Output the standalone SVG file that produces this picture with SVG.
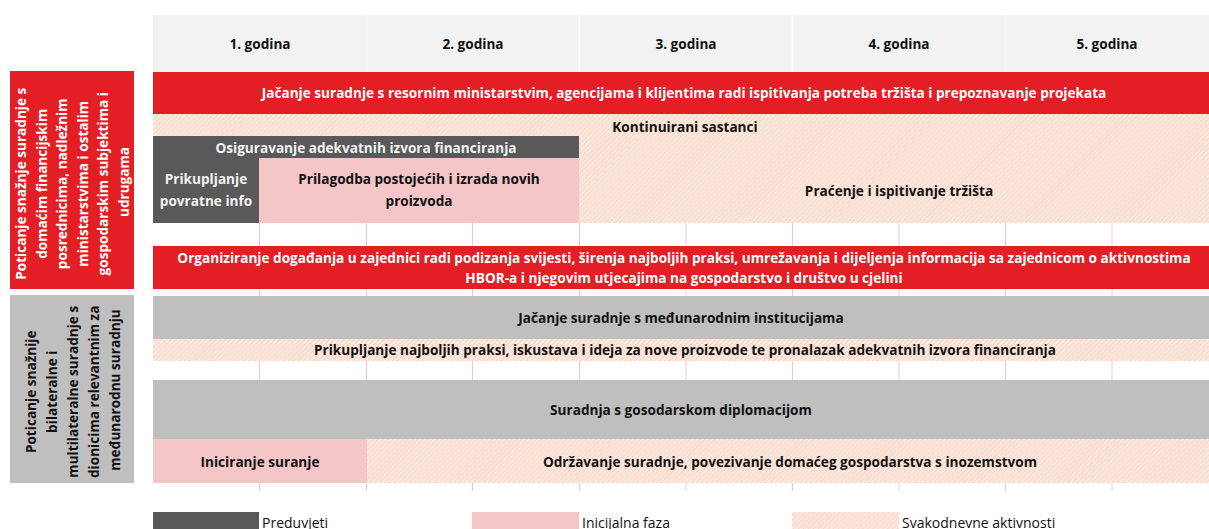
<svg xmlns="http://www.w3.org/2000/svg" width="1209" height="529" viewBox="0 0 1209 529">
<defs>
<pattern id="hatch" patternUnits="userSpaceOnUse" width="3.5" height="3.5" patternTransform="rotate(45)">
<rect width="3.5" height="3.5" fill="#FDEBE1"/>
<rect x="0" y="0" width="1.1" height="3.5" fill="#F9D2BF"/>
</pattern>
<style>
text{font-family:"Open Sans",Lato,"Liberation Sans",sans-serif;}
.b{font-weight:700;font-size:13.6px;text-anchor:middle;}
.w{fill:#FFFFFF;}
.k{fill:#111111;}
.lg{font-size:14px;fill:#111111;}
.grid line{stroke:#F4C6C3;stroke-width:1;}
.hdr{fill:#F2F2F2;}
.red{fill:#E31E24;}
.dk{fill:#595959;}
.pk{fill:#F4C6C8;}
.gr{fill:#BFBFBF;}
.ht{fill:url(#hatch);}
</style>
</defs>
<rect width="1209" height="529" fill="#FFFFFF"/>

<g id="header">
<rect class="hdr" x="153" y="15" width="1056" height="57"/>
<g stroke="#FFFFFF" stroke-width="1.5">
<line x1="366.5" y1="15" x2="366.5" y2="72"/>
<line x1="579.5" y1="15" x2="579.5" y2="72"/>
<line x1="792.5" y1="15" x2="792.5" y2="72"/>
<line x1="1005.5" y1="15" x2="1005.5" y2="72"/>
</g>
<text class="b k" x="260" y="49">1. godina</text>
<text class="b k" x="473" y="49">2. godina</text>
<text class="b k" x="686" y="49">3. godina</text>
<text class="b k" x="899" y="49">4. godina</text>
<text class="b k" x="1107" y="49">5. godina</text>
</g>

<g class="grid" id="grid">
<line x1="259.5" y1="223" x2="259.5" y2="246"/><line x1="366.5" y1="223" x2="366.5" y2="246"/><line x1="472.5" y1="223" x2="472.5" y2="246"/><line x1="579.5" y1="223" x2="579.5" y2="246"/><line x1="686" y1="223" x2="686" y2="246"/><line x1="792.5" y1="223" x2="792.5" y2="246"/><line x1="899" y1="223" x2="899" y2="246"/><line x1="1005.5" y1="223" x2="1005.5" y2="246"/><line x1="1112" y1="223" x2="1112" y2="246"/>
<line x1="259.5" y1="289" x2="259.5" y2="296"/><line x1="366.5" y1="289" x2="366.5" y2="296"/><line x1="472.5" y1="289" x2="472.5" y2="296"/><line x1="579.5" y1="289" x2="579.5" y2="296"/><line x1="686" y1="289" x2="686" y2="296"/><line x1="792.5" y1="289" x2="792.5" y2="296"/><line x1="899" y1="289" x2="899" y2="296"/><line x1="1005.5" y1="289" x2="1005.5" y2="296"/><line x1="1112" y1="289" x2="1112" y2="296"/>
<line x1="259.5" y1="361" x2="259.5" y2="380"/><line x1="366.5" y1="361" x2="366.5" y2="380"/><line x1="472.5" y1="361" x2="472.5" y2="380"/><line x1="579.5" y1="361" x2="579.5" y2="380"/><line x1="686" y1="361" x2="686" y2="380"/><line x1="792.5" y1="361" x2="792.5" y2="380"/><line x1="899" y1="361" x2="899" y2="380"/><line x1="1005.5" y1="361" x2="1005.5" y2="380"/><line x1="1112" y1="361" x2="1112" y2="380"/>
<line x1="259.5" y1="483" x2="259.5" y2="491"/><line x1="366.5" y1="483" x2="366.5" y2="491"/><line x1="472.5" y1="483" x2="472.5" y2="491"/><line x1="579.5" y1="483" x2="579.5" y2="491"/><line x1="686" y1="483" x2="686" y2="491"/><line x1="792.5" y1="483" x2="792.5" y2="491"/><line x1="899" y1="483" x2="899" y2="491"/><line x1="1005.5" y1="483" x2="1005.5" y2="491"/><line x1="1112" y1="483" x2="1112" y2="491"/>
</g>

<g id="label-domestic">
<rect class="red" x="10" y="71" width="124" height="218"/>
<text class="b w" transform="translate(0,182) rotate(-90)">
<tspan x="0" y="26">Poticanje snažnje suradnje s</tspan>
<tspan x="0" y="46.5">domaćim financijskim</tspan>
<tspan x="0" y="67">posrednicima, nadležnim</tspan>
<tspan x="0" y="87.5">ministarstvima i ostalim</tspan>
<tspan x="0" y="108">gospodarskim subjektima i</tspan>
<tspan x="0" y="128.5">udrugama</tspan>
</text>
</g>

<g id="label-international">
<rect class="gr" x="10" y="295" width="124" height="188"/>
<text class="b k" transform="translate(0,390) rotate(-90)">
<tspan x="0" y="36">Poticanje snažnije</tspan>
<tspan x="0" y="57">bilateralne i</tspan>
<tspan x="0" y="78">multilateralne suradnje s</tspan>
<tspan x="0" y="99">dionicima relevantnim za</tspan>
<tspan x="0" y="120">međunarodnu suradnju</tspan>
</text>
</g>

<g id="node-jacanje-resorno">
<rect class="red" x="153" y="72" width="1056" height="42"/>
<text class="b w" x="684" y="98">Jačanje suradnje s resornim ministarstvim, agencijama i klijentima radi ispitivanja potreba tržišta i prepoznavanje projekata</text>
</g>

<g id="node-kontinuirani">
<rect class="ht" x="153" y="114" width="1056" height="109"/>
<text class="b k" x="685" y="132">Kontinuirani sastanci</text>
</g>

<g id="node-osiguravanje">
<rect class="dk" x="153" y="136" width="426" height="22"/>
<text class="b" x="366" y="153" fill="#F2F2F2">Osiguravanje adekvatnih izvora financiranja</text>
</g>

<g id="node-prikupljanje-info">
<rect class="dk" x="153" y="158" width="106" height="65"/>
<text class="b" fill="#F2F2F2"><tspan x="206" y="184">Prikupljanje</tspan><tspan x="206" y="206">povratne info</tspan></text>
</g>

<g id="node-prilagodba">
<rect class="pk" x="259" y="158" width="320" height="65"/>
<text class="b k"><tspan x="419" y="184">Prilagodba postojećih i izrada novih</tspan><tspan x="419" y="206">proizvoda</tspan></text>
</g>

<g id="node-pracenje">
<text class="b k" x="899" y="196">Praćenje i ispitivanje tržišta</text>
</g>

<g id="node-organiziranje">
<rect class="red" x="153" y="246" width="1056" height="43"/>
<text class="b w"><tspan x="684" y="263">Organiziranje događanja u zajednici radi podizanja svijesti, širenja najboljih praksi, umrežavanja i dijeljenja informacija sa zajednicom o aktivnostima</tspan><tspan x="684" y="283">HBOR-a i njegovim utjecajima na gospodarstvo i društvo u cjelini</tspan></text>
</g>

<g id="node-jacanje-medjunarodno">
<rect class="gr" x="153" y="296" width="1056" height="43"/>
<text class="b k" x="681" y="323">Jačanje suradnje s međunarodnim institucijama</text>
</g>

<g id="node-prikupljanje-prakse">
<rect class="ht" x="153" y="339" width="1056" height="22"/>
<text class="b k" x="685" y="355">Prikupljanje najboljih praksi, iskustava i ideja za nove proizvode te pronalazak adekvatnih izvora financiranja</text>
</g>

<g id="node-suradnja-diplomacija">
<rect class="gr" x="153" y="380" width="1056" height="59"/>
<text class="b k" x="681" y="415">Suradnja s gosodarskom diplomacijom</text>
</g>

<g id="node-iniciranje">
<rect class="pk" x="153" y="439" width="214" height="44"/>
<text class="b k" x="260" y="467">Iniciranje suranje</text>
</g>

<g id="node-odrzavanje">
<rect class="ht" x="367" y="439" width="842" height="44"/>
<text class="b k" x="790" y="467">Održavanje suradnje, povezivanje domaćeg gospodarstva s inozemstvom</text>
</g>

<g id="legend">
<rect class="dk" x="153" y="512" width="106" height="20"/>
<text class="lg" x="262" y="528">Preduvjeti</text>
<rect class="pk" x="472" y="512" width="107" height="20"/>
<text class="lg" x="582" y="528">Inicijalna faza</text>
<rect class="ht" x="792" y="512" width="107" height="20"/>
<text class="lg" x="902" y="528">Svakodnevne aktivnosti</text>
</g>
</svg>
